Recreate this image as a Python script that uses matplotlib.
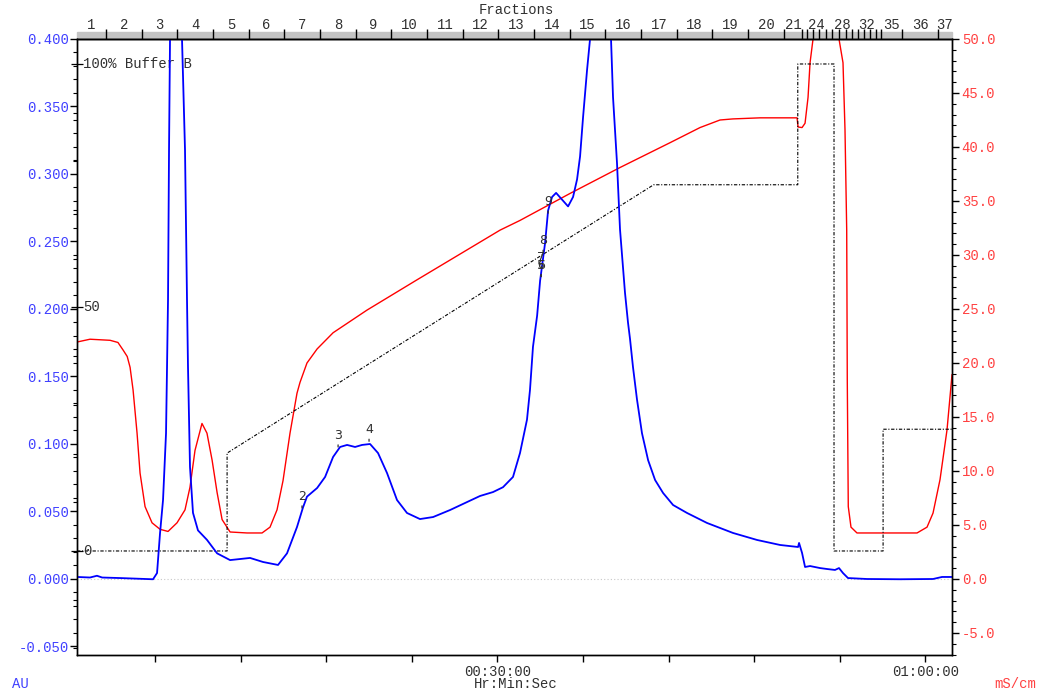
import matplotlib
matplotlib.use("Agg")
import matplotlib.pyplot as plt
from matplotlib.patches import Rectangle
import numpy as np

plt.rcParams['font.family'] = ['Liberation Mono', 'DejaVu Sans Mono']
plt.rcParams['font.size'] = 10

# UV absorbance (AU) vs time (min)
uv_t = [0.53, 1.44, 1.93, 2.29, 3.55, 5.86, 6.14, 6.35, 6.56, 6.77, 6.84, 6.91,
        6.98, 7.05, 7.30, 7.60, 7.89, 8.10, 8.24, 8.31, 8.45, 8.66, 9.01, 9.64,
        10.35, 11.26, 12.66, 13.57, 14.62, 15.25, 15.95, 16.37, 16.65, 17.36,
        17.92, 18.48, 18.97, 19.46, 20.02, 20.51, 21.07, 21.63, 22.26, 22.96,
        23.66, 24.57, 25.49, 26.68, 27.87, 28.78, 29.69, 30.39, 31.09, 31.58,
        32.07, 32.28, 32.49, 32.78, 32.99, 33.34, 33.55, 33.83, 34.11, 34.53,
        34.95, 35.30, 35.58, 35.79, 36.00, 36.28, 36.49, 37.00, 37.50, 37.96,
        38.10, 38.38, 38.59, 38.94, 39.15, 39.29, 39.50, 39.78, 40.13, 40.56,
        41.05, 41.61, 42.31, 43.29, 44.69, 46.51, 48.20, 49.81, 51.07, 51.14,
        51.35, 51.56, 51.91, 52.61, 53.10, 53.66, 53.94, 54.22, 54.57, 55.90,
        58.22, 60.53, 61.16, 61.86]
uv_au = [0.0015, 0.0011, 0.0024, 0.0011, 0.0007, -0.0002, 0.0044, 0.034, 0.0585,
         0.108, 0.157, 0.207, 0.318, 0.400, 0.62, 0.62, 0.400, 0.318, 0.207,
         0.157, 0.083, 0.049, 0.036, 0.029, 0.019, 0.014, 0.0156, 0.0126,
         0.0104, 0.019, 0.0385, 0.053, 0.061, 0.0674, 0.0756, 0.0904, 0.0978,
         0.0993, 0.0978, 0.0993, 0.100, 0.0933, 0.0785, 0.0585, 0.0489, 0.0444,
         0.0459, 0.0511, 0.057, 0.0615, 0.0644, 0.068, 0.0756, 0.0933, 0.118,
         0.140, 0.172, 0.195, 0.221, 0.249, 0.273, 0.283, 0.286, 0.281, 0.276,
         0.283, 0.296, 0.313, 0.342, 0.377, 0.400, 0.52, 0.52, 0.400, 0.357,
         0.308, 0.259, 0.212, 0.190, 0.178, 0.157, 0.133, 0.108, 0.088, 0.0733,
         0.0637, 0.0548, 0.0489, 0.0415, 0.0341, 0.0289, 0.0252, 0.0237, 0.0267,
         0.0193, 0.0089, 0.0096, 0.0081, 0.0074, 0.0067, 0.0081, 0.0044, 0.0007,
         0.0, -0.0002, 0.0, 0.0015, 0.0015]

# conductivity (mS/cm)
cond_t = [0.53, 1.44, 2.85, 3.40, 3.76, 4.05, 4.25, 4.46, 4.74, 4.95, 5.30, 5.79,
          6.35, 6.91, 7.54, 8.10, 8.45, 8.80, 9.29, 9.64, 10.00, 10.35, 10.70,
          11.26, 12.45, 13.50, 14.06, 14.55, 14.97, 15.46, 15.95, 16.16, 16.65,
          17.36, 18.48, 20.86, 24.36, 30.18, 31.58, 35.09, 38.59, 42.10, 43.30,
          44.20, 45.60, 46.50, 48.41, 51.00, 51.07, 51.35, 51.56, 51.77, 51.91,
          52.12, 52.60, 53.50, 53.94, 54.22, 54.36, 54.48, 54.52, 54.59, 54.78,
          55.20, 57.73, 59.41, 60.11, 60.53, 61.02, 61.51, 61.86]
cond_ms = [21.94, 22.2, 22.1, 21.9, 21.2, 20.6, 19.6, 17.5, 13.5, 9.8, 6.7, 5.2,
           4.6, 4.4, 5.2, 6.4, 8.5, 11.9, 14.4, 13.5, 11.0, 8.0, 5.5, 4.35,
           4.26, 4.26, 4.8, 6.4, 9.1, 13.5, 17.2, 18.2, 20.0, 21.3, 22.8, 24.9,
           27.7, 32.3, 33.2, 35.7, 38.1, 40.4, 41.2, 41.8, 42.5, 42.6, 42.7,
           42.7, 41.85, 41.8, 42.2, 44.6, 47.8, 50.0, 56.0, 56.0, 50.0, 47.8,
           41.6, 32.3, 18.4, 6.7, 4.8, 4.26, 4.26, 4.26, 4.8, 6.1, 9.2, 13.8,
           18.9]

# gradient, % buffer B
grad_t = [0.53, 11.05, 11.05, 40.95, 51.05, 51.05, 53.59, 53.59, 57.03, 57.03, 61.86]
grad_pct = [0, 0, 20.1, 75.2, 75.2, 100, 100, 0, 0, 25, 25]

# fraction collector marks
frac_edges = [0.53, 2.57, 5.07, 7.57, 10.07, 12.57, 15.07, 17.57, 20.07, 22.57,
              25.07, 27.57, 30.07, 32.57, 35.07, 37.57, 40.07, 42.57, 45.07,
              47.57, 50.07, 51.35, 51.70, 52.12, 52.54, 53.03, 53.45, 53.94,
              54.43, 54.85, 55.27, 55.69, 56.11, 56.53, 56.88, 58.36, 60.88, 61.86]
frac_shown = list(range(1, 22)) + [24, 28, 32, 35, 36, 37]

# peak markers
peak_ids = ['2', '3', '4', '5', '6', '7', '8', '9']
peak_t = [16.30, 18.83, 21.00, 33.06, 33.06, 33.08, 33.20, 33.55]
peak_au = [0.0526, 0.0978, 0.102, 0.224, 0.224, 0.230, 0.242, 0.271]

BLUE_TXT = '#4040ff'
RED_TXT = '#ff4040'
GREY_TXT = '#303030'

fig = plt.figure(figsize=(10.38, 6.96), dpi=100)
ax = fig.add_axes([77 / 1038, 1 - 655 / 696, 875 / 1038, 616 / 696])
ax2 = ax.twinx()
ax3 = ax.twinx()
ax.set_zorder(ax2.zorder + 2)
ax.patch.set_visible(False)

xmin, xmax = 0.53, 61.86
ax.set_xlim(xmin, xmax)
ax.set_ylim(-0.0563, 0.4)
ax2.set_ylim(-7.04, 50.0)
ax3.set_ylim(-21.36, 105.13)

# curves
ax2.plot(cond_t, cond_ms, color='#ff0000', lw=1.0)
ax3.plot(grad_t, grad_pct, color='black', lw=0.8, ls=(0, (3, 1.5, 1, 1.5)))
ax.plot(uv_t, uv_au, color='#0000ff', lw=1.3)
ax.axhline(0, color='#c8c8c8', lw=0.8, ls=(0, (1, 2)), zorder=0)

# left AU axis
ax.set_yticks(np.arange(-0.05, 0.401, 0.05))
ax.set_yticklabels(['%.3f' % v for v in np.arange(-0.05, 0.401, 0.05)])
ax.set_yticks(np.arange(-0.05, 0.401, 0.01), minor=True)
ax.tick_params(axis='y', which='major', direction='out', length=5, width=1,
               labelcolor=BLUE_TXT, pad=1)
ax.tick_params(axis='y', which='minor', direction='out', length=3, width=0.8)

# right mS/cm axis
ax2.set_yticks(np.arange(-5, 50.1, 5))
ax2.set_yticklabels(['%.1f' % v for v in np.arange(-5, 50.1, 5)])
ax2.set_yticks(np.arange(-7, 50.1, 1), minor=True)
ax2.tick_params(axis='y', which='major', direction='out', length=5, width=1,
                labelcolor=RED_TXT, pad=2)
ax2.tick_params(axis='y', which='minor', direction='out', length=3, width=0.8)

# %B scale drawn on the left spine
for s in ax3.spines.values():
    s.set_visible(False)
ax3.yaxis.set_ticks_position('left')
ax3.set_yticks([0, 50, 100])
ax3.set_yticklabels([])
ax3.set_yticks(np.arange(-20, 101, 10), minor=True)
ax3.tick_params(axis='y', which='major', direction='inout', length=8, width=0.9)
ax3.tick_params(axis='y', which='minor', direction='out', length=3, width=0.8)
ax3.set_xticks([])
tr = ax3.get_yaxis_transform()
for v, lab in zip([0, 50, 100], ['0', '50', '100% Buffer B']):
    ax3.text(0.007, v, lab, transform=tr, ha='left', va='center',
             color=GREY_TXT, fontsize=10)

# bottom time axis
tmaj = np.arange(6, 61, 6)
ax.set_xticks(tmaj)
ax.set_xticklabels(['00:30:00' if t == 30 else '01:00:00' if t == 60 else ''
                    for t in tmaj])
ax.tick_params(axis='x', direction='out', length=5, width=1, pad=2,
               labelcolor=GREY_TXT)

# top fractions axis
top = ax.secondary_xaxis('top')
top.set_xticks(frac_edges[1:-1])
top.set_xticklabels([])
centers = [(a + b) / 2 for a, b in zip(frac_edges[:-1], frac_edges[1:])]
labs = [str(i + 1) if (i + 1) in frac_shown else '' for i in range(len(centers))]
top.set_xticks(centers, labels=labs, minor=True)
top.tick_params(which='major', direction='out', length=7, width=1)
top.tick_params(which='minor', length=0, pad=5, labelcolor=GREY_TXT)

for a in (ax, ax2, top):
    for s in a.spines.values():
        s.set_linewidth(1.0)

fig.patches.append(Rectangle((77 / 1038, 1 - 38 / 696), 875 / 1038, 6 / 696,
                             transform=fig.transFigure, color='#c4c4c4',
                             zorder=-5))

# peak labels
for lab, t, v in zip(peak_ids, peak_t, peak_au):
    ax.annotate(lab, xy=(t, v), xytext=(0, 3.5), textcoords='offset points',
                ha='center', va='bottom', fontsize=9, color=GREY_TXT,
                family='DejaVu Sans',
                arrowprops=dict(arrowstyle='-', color=GREY_TXT, lw=0.9,
                                shrinkA=0, shrinkB=0))

fig.text(516 / 1038, 1 - 10 / 696, 'Fractions', ha='center', va='center',
         color=GREY_TXT)
fig.text(516 / 1038, 1 - 684 / 696, 'Hr:Min:Sec', ha='center', va='center',
         color=GREY_TXT)
fig.text(12 / 1038, 1 - 684 / 696, 'AU', ha='left', va='center', color=BLUE_TXT)
fig.text(1036 / 1038, 1 - 684 / 696, 'mS/cm', ha='right', va='center',
         color=RED_TXT)

fig.savefig('out.png', dpi=100)
